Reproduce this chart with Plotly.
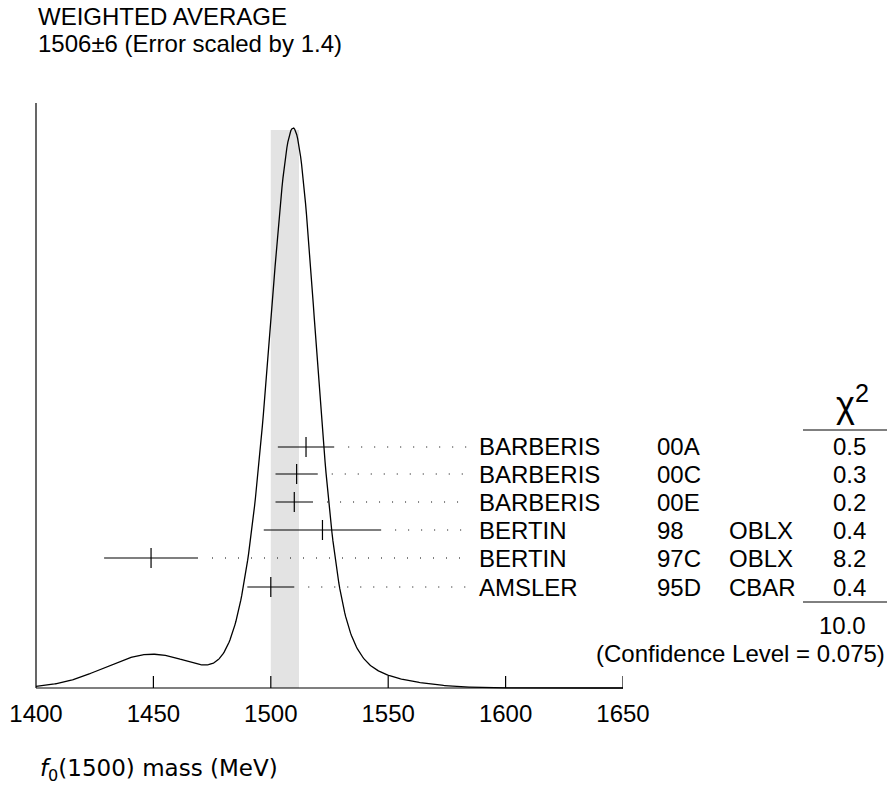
import plotly.graph_objects as go
import numpy as np

# measurements (MeV)
authors = ['BARBERIS', 'BARBERIS', 'BARBERIS', 'BERTIN', 'BERTIN', 'AMSLER']
codes = ['00A', '00C', '00E', '98', '97C', '95D']
methods = ['', '', '', 'OBLX', 'OBLX', 'CBAR']
values = [1515, 1511, 1510, 1522, 1449, 1500]
errors = [12, 9, 8, 25, 20, 10]
chi2 = ['0.5', '0.3', '0.2', '0.4', '8.2', '0.4']
chi2_total = '10.0'
avg_val, avg_err = 1506, 6
ticks = [1400, 1450, 1500, 1550, 1600, 1650]

W, H = 895, 791
OFF = 8                   # page body margin
FW, FH = W - 2 * OFF, H - 2 * OFF
X0, X1 = 36, 623          # pixel positions of 1400 and 1650 (page)
BASE, PEAK = 688, 128
rows = [447, 474, 502, 530, 558, 587]
FONT = 'Liberation Sans, Arial'
FS = 24


def px(v):
    return X0 + (v - 1400) * (X1 - X0) / 250.0


def fx(xp):
    return (xp - OFF) / FW


def fy(yp):
    return 1 - (yp - OFF) / FH


def label(xp, yp, text, anchor='left', size=FS, family=FONT):
    fig.add_annotation(x=fx(xp), y=fy(yp), xref='paper', yref='paper', text=text,
                       xanchor=anchor, yanchor='middle', showarrow=False,
                       font=dict(size=size, family=family, color='black'))


fig = go.Figure()

# ideogram: sum of gaussians with area ~ 1/err
m = np.linspace(1400, 1650, 600)
curve = np.zeros_like(m)
for v, e in zip(values, errors):
    curve += (1.0 / e ** 2) * np.exp(-0.5 * ((m - v) / e) ** 2)
curve = BASE - curve / curve.max() * (BASE - PEAK)

fig.add_shape(type='rect', xref='x', yref='y', x0=avg_val - avg_err, x1=avg_val + avg_err,
              y0=130, y1=BASE, fillcolor='#e3e3e3', line_width=0, layer='below')

fig.add_trace(go.Scatter(x=m, y=curve, mode='lines', line=dict(color='black', width=1.3),
                         hoverinfo='skip'))

# measurements with error bars and dotted leaders
for v, e, r in zip(values, errors, rows):
    fig.add_trace(go.Scatter(x=[v - e, v + e], y=[r, r], mode='lines',
                             line=dict(color='black', width=1.2)))
    fig.add_trace(go.Scatter(x=[v, v], y=[r - 10, r + 10], mode='lines',
                             line=dict(color='black', width=1.2)))
    fig.add_shape(type='line', xref='paper', yref='y',
                  x0=fx(px(v + e) + 14), x1=fx(470), y0=r, y1=r,
                  line=dict(color='black', width=1, dash='1px,12px'))

# tick labels
fig.add_trace(go.Scatter(x=ticks, y=[716] * len(ticks), mode='text',
                         text=[str(t) for t in ticks], cliponaxis=False,
                         textfont=dict(size=FS, family=FONT, color='black')))

# axes lines
fig.add_shape(type='line', xref='paper', yref='y', x0=fx(X0), x1=fx(X0), y0=103, y1=BASE,
              line=dict(color='black', width=1.2))
fig.add_shape(type='line', xref='paper', yref='y', x0=fx(X0), x1=fx(X1), y0=BASE, y1=BASE,
              line=dict(color='black', width=1.2))
for t in ticks[1:]:
    fig.add_shape(type='line', xref='x', yref='y', x0=t, x1=t, y0=BASE - 12, y1=BASE,
                  line=dict(color='black', width=1.2))

for a, c, mt, ch, r in zip(authors, codes, methods, chi2, rows):
    label(477, r, a)
    label(655, r, c)
    if mt:
        label(727, r, mt)
    label(868, r, ch, 'right')
label(868, 625, chi2_total, 'right')
label(887, 653, '(Confidence Level = 0.075)', 'right')
label(852, 402, 'χ<sup>2</sup>', 'center', size=36)
label(36, 17, 'WEIGHTED AVERAGE')
label(36, 43, '1506±6 (Error scaled by 1.4)')
label(38, 770, '<i>f</i><sub>0</sub>(1500) mass (MeV)', size=23, family='DejaVu Sans')

# chi2 rules
fig.add_shape(type='line', xref='paper', yref='y', x0=fx(803), x1=1, y0=430, y1=430,
              line=dict(color='black', width=1))
fig.add_shape(type='line', xref='paper', yref='y', x0=fx(803), x1=1, y0=602, y1=602,
              line=dict(color='black', width=1))

# arrow to the average
fig.add_annotation(x=px(avg_val), y=112, ax=px(avg_val), ay=62, xref='x', yref='y',
                   axref='x', ayref='y', showarrow=True, arrowhead=7, arrowsize=1.8,
                   arrowwidth=1.2, arrowcolor='black', text='')

fig.update_layout(
    width=FW, height=FH, margin=dict(l=0, r=0, t=0, b=0),
    plot_bgcolor='white', paper_bgcolor='white', showlegend=False,
    xaxis=dict(range=[1400, 1650], domain=[fx(X0), fx(X1)], visible=False),
    yaxis=dict(range=[H - OFF, OFF], domain=[0, 1], visible=False),
)

fig.write_html('out.html')
